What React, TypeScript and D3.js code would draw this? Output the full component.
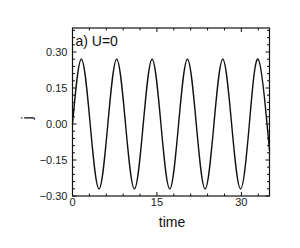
import { useEffect, useRef } from "react";
import * as d3 from "d3";

// estimated points (zero crossings, peaks, troughs)
const times = [
  0, 1.57, 3.14, 4.71, 6.28, 7.85, 9.42, 11.0, 12.57, 14.14, 15.71, 17.28, 18.85, 20.42,
  21.99, 23.56, 25.13, 26.7, 28.27, 29.85, 31.42, 32.99, 34.56, 35,
];
const current = [
  0, 0.27, 0, -0.27, 0, 0.27, 0, -0.27, 0, 0.27, 0, -0.27, 0, 0.27,
  0, -0.27, 0, 0.27, 0, -0.27, 0, 0.27, 0, -0.11,
];
const xTicks = [0, 15, 30];
const yTicks = [-0.3, -0.15, 0, 0.15, 0.3];

const FONT = "'Liberation Sans', Arial, sans-serif";

export default function App() {
  const ref = useRef<HTMLDivElement>(null);

  useEffect(() => {
    if (!ref.current) return;
    const width = 300;
    const height = 248;
    const margin = { top: 28, right: 30.5, bottom: 52, left: 72.5 };
    const innerWidth = width - margin.left - margin.right;
    const innerHeight = height - margin.top - margin.bottom;

    const svg = d3
      .select(ref.current)
      .html("")
      .append("svg")
      .attr("width", width)
      .attr("height", height)
      .style("display", "block")
      .style("background", "#fff");

    const g = svg.append("g").attr("transform", `translate(${margin.left},${margin.top})`);

    const x = d3.scaleLinear().domain([0, 35]).range([0, innerWidth]);
    const y = d3.scaleLinear().domain([-0.3, 0.4]).range([innerHeight, 0]);

    const xMinor = d3.range(0, 35.01, 3).filter((v) => !xTicks.includes(v));
    const yMinor = d3.range(-0.3, 0.4, 0.03).filter((v) => !yTicks.some((t) => Math.abs(t - v) < 1e-6));

    const tickG = g.append("g").attr("stroke", "#111").attr("stroke-width", 1);
    // bottom + top ticks
    xTicks.forEach((v) => {
      tickG.append("line").attr("x1", x(v)).attr("x2", x(v)).attr("y1", innerHeight).attr("y2", innerHeight - 4);
      tickG.append("line").attr("x1", x(v)).attr("x2", x(v)).attr("y1", 0).attr("y2", 4);
    });
    xMinor.forEach((v) => {
      tickG.append("line").attr("x1", x(v)).attr("x2", x(v)).attr("y1", innerHeight).attr("y2", innerHeight - 2.5);
      tickG.append("line").attr("x1", x(v)).attr("x2", x(v)).attr("y1", 0).attr("y2", 2.5);
    });
    // left + right ticks
    yTicks.forEach((v) => {
      tickG.append("line").attr("x1", 0).attr("x2", 4).attr("y1", y(v)).attr("y2", y(v));
      tickG.append("line").attr("x1", innerWidth).attr("x2", innerWidth - 4).attr("y1", y(v)).attr("y2", y(v));
    });
    yMinor.forEach((v) => {
      tickG.append("line").attr("x1", 0).attr("x2", 2.5).attr("y1", y(v)).attr("y2", y(v));
      tickG.append("line").attr("x1", innerWidth).attr("x2", innerWidth - 2.5).attr("y1", y(v)).attr("y2", y(v));
    });

    const pts = times.map((t, i) => [t, current[i]] as [number, number]);
    g.append("path")
      .datum(pts)
      .attr("fill", "none")
      .attr("stroke", "#111")
      .attr("stroke-width", 1.4)
      .attr(
        "d",
        d3
          .line<[number, number]>()
          .x((d) => x(d[0]))
          .y((d) => y(d[1]))
          .curve(d3.curveNatural),
      );

    g.append("rect")
      .attr("width", innerWidth)
      .attr("height", innerHeight)
      .attr("fill", "none")
      .attr("stroke", "#111")
      .attr("stroke-width", 1.2);

    const fmt = d3.format(".2f");
    g.selectAll("text.ylab")
      .data(yTicks)
      .join("text")
      .attr("class", "ylab")
      .attr("x", -5)
      .attr("y", (d) => y(d) + 4)
      .attr("text-anchor", "end")
      .attr("font-family", FONT)
      .attr("font-size", 11)
      .attr("fill", "#222")
      .text((d) => fmt(d));

    g.selectAll("text.xlab")
      .data(xTicks)
      .join("text")
      .attr("class", "xlab")
      .attr("x", (d) => x(d))
      .attr("y", innerHeight + 10)
      .attr("text-anchor", "middle")
      .attr("font-family", FONT)
      .attr("font-size", 11)
      .attr("fill", "#222")
      .text((d) => d);

    g.append("text")
      .attr("x", 3)
      .attr("y", 18)
      .attr("font-family", FONT)
      .attr("font-size", 14)
      .attr("fill", "#111")
      .text("a) U=0");

    svg.append("text")
      .attr("x", 172)
      .attr("y", 227)
      .attr("text-anchor", "middle")
      .attr("font-family", FONT)
      .attr("font-size", 14)
      .attr("fill", "#111")
      .text("time");

    svg.append("text")
      .attr("transform", "translate(32,118) rotate(-90)")
      .attr("text-anchor", "middle")
      .attr("font-family", FONT)
      .attr("font-size", 14)
      .attr("fill", "#111")
      .text("j");
  }, []);

  return <div ref={ref} style={{ position: "absolute", left: 0, top: 0 }} />;
}
